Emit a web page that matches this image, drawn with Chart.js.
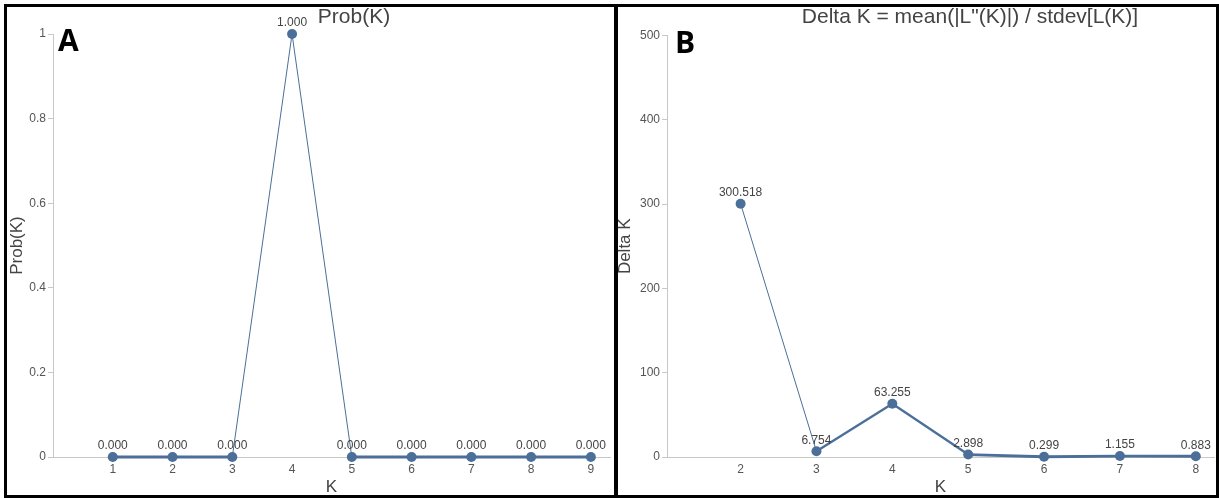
<!DOCTYPE html>
<html>
<head>
<meta charset="utf-8">
<script src="https://cdn.jsdelivr.net/npm/chart.js@4.4.1/dist/chart.umd.min.js"></script>
<style>
  html, body { margin: 0; padding: 0; background: #fff; }
  body { width: 1219px; height: 499px; position: relative; overflow: hidden; font-family: "Liberation Sans", Arial, sans-serif; }
  .wrap { position: absolute; top: 0; height: 499px; }
  .frame { position: absolute; top: 4px; height: 494px; border: 3px solid #000; box-sizing: border-box; pointer-events: none; }
  .title { position: absolute; font-size: 21px; line-height: 1; color: #444; white-space: nowrap; transform: translateX(-50%); }
  .tag { position: absolute; font-family: "Open Sans", sans-serif; font-weight: bold; font-size: 30px; line-height: 1; color: #000; }
</style>
</head>
<body>
<div class="wrap" style="left:0;width:615px"><canvas id="chartA"></canvas></div>
<div class="wrap" style="left:615px;width:604px"><canvas id="chartB"></canvas></div>
<div class="frame" style="left:4px;width:613px"></div>
<div class="frame" style="left:615px;width:604px"></div>
<div class="title" style="left:354px;top:5px">Prob(K)</div>
<div class="title" style="left:970px;top:5px">Delta K = mean(|L"(K)|) / stdev[L(K)]</div>
<div class="tag" style="left:58px;top:25px">A</div>
<div class="tag" style="left:675px;top:27px">B</div>
<script>
// données panneau A
const kA = [1, 2, 3, 4, 5, 6, 7, 8, 9];
const probK = [0, 0, 0, 1, 0, 0, 0, 0, 0];
const probTicks = [0, 0.2, 0.4, 0.6, 0.8, 1];

// données panneau B
const kB = [2, 3, 4, 5, 6, 7, 8];
const deltaK = [300.518, 6.754, 63.255, 2.898, 0.299, 1.155, 0.883];
const deltaTicks = [0, 100, 200, 300, 400, 500];

const blue = "#4b6f98";
const axisGrey = "#c8c8c8";
const textGrey = "#555";

Chart.defaults.font.family = '"Liberation Sans", Arial, sans-serif';
Chart.defaults.color = textGrey;

// étiquettes de valeur au-dessus des points
const valueLabels = {
  id: "valueLabels",
  afterDatasetsDraw(chart) {
    const c = chart.ctx;
    const meta = chart.getDatasetMeta(0);
    const values = chart.data.datasets[0].data;
    c.save();
    c.font = '12px "Liberation Sans", Arial, sans-serif';
    c.fillStyle = "#444";
    c.textAlign = "center";
    c.textBaseline = "middle";
    meta.data.forEach((pt, i) => {
      c.fillText(values[i].y.toFixed(3), pt.x, pt.y - 11);
    });
    c.restore();
  },
};

// ligne plus fine quand elle est raide (comme dans l'original)
function segWidth(ctx) {
  const dx = Math.abs(ctx.p1.x - ctx.p0.x);
  const dy = Math.abs(ctx.p1.y - ctx.p0.y);
  const len = Math.hypot(dx, dy) || 1;
  return Math.max(1, 2.8 * dx / len);
}

function makeChart(id, ks, vals, yTicks, opts) {
  const ctx = document.getElementById(id).getContext("2d");
  return new Chart(ctx, {
    type: "line",
    data: {
      datasets: [{
        data: ks.map((k, i) => ({ x: k, y: vals[i] })),
        borderColor: blue,
        backgroundColor: blue,
        pointBackgroundColor: blue,
        pointBorderWidth: 0,
        pointRadius: 5,
        borderWidth: 2.5,
        segment: { borderWidth: segWidth },
        tension: 0,
        clip: false,
      }],
    },
    options: {
      responsive: true,
      maintainAspectRatio: false,
      animation: false,
      layout: { padding: opts.padding },
      plugins: { legend: { display: false }, tooltip: { enabled: false } },
      scales: {
        x: {
          type: "linear",
          min: opts.xMin,
          max: opts.xMax,
          afterBuildTicks: (s) => { s.ticks = ks.map((v) => ({ value: v })); },
          afterFit: (s) => { s.height = opts.xHeight; },
          grid: { display: false, drawTicks: false },
          border: { display: true, color: axisGrey, width: 1 },
          ticks: { padding: 5, font: { size: 12 }, color: textGrey, maxRotation: 0, callback: (v) => String(v) },
          title: { display: true, text: "K", font: { size: 17 }, color: "#444", padding: { top: 0, bottom: 1 } },
        },
        y: {
          min: 0,
          max: yTicks[yTicks.length - 1],
          afterBuildTicks: (s) => { s.ticks = yTicks.map((v) => ({ value: v })); },
          afterFit: (s) => { s.width = opts.yWidth; },
          grid: { drawOnChartArea: false, drawTicks: true, tickLength: 5, color: axisGrey },
          border: { display: true, color: axisGrey, width: 1 },
          ticks: { padding: 2, font: { size: 12 }, color: textGrey, callback: (v) => String(v) },
          title: { display: true, text: opts.yTitle, font: { size: 17 }, color: "#444", padding: { top: opts.yTitlePad, bottom: 0 } },
        },
      },
    },
    plugins: [valueLabels],
  });
}

makeChart("chartA", kA, probK, probTicks, {
  padding: { left: 0, right: 2, top: 34, bottom: 0 },
  xMin: 0, xMax: 9.32, xHeight: 42, yWidth: 53,
  yTitle: "Prob(K)", yTitlePad: 7,
});

makeChart("chartB", kB, deltaK, deltaTicks, {
  padding: { left: 0, right: 4, top: 35.5, bottom: 0 },
  xMin: 1.03, xMax: 8.24, xHeight: 42, yWidth: 52,
  yTitle: "Delta K", yTitlePad: 0,
});
</script>
</body>
</html>
